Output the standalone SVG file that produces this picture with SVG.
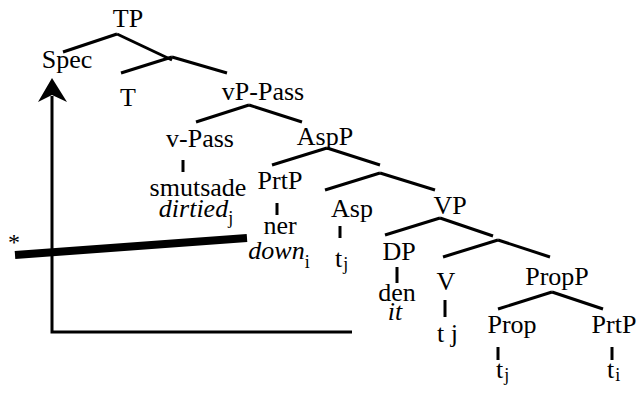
<svg xmlns="http://www.w3.org/2000/svg" width="642" height="393" viewBox="0 0 642 393">
<rect width="642" height="393" fill="#fff"/>
<g id="connectors" stroke="#000" stroke-width="3" fill="none">
<line x1="117" y1="34" x2="63" y2="52"/>
<line x1="117" y1="34" x2="172" y2="60"/>
<line x1="172" y1="57" x2="121" y2="73"/>
<line x1="172" y1="57" x2="227" y2="73"/>
<line x1="249" y1="105" x2="196" y2="122"/>
<line x1="249" y1="105" x2="302" y2="122"/>
<line x1="183" y1="160" x2="183" y2="172"/>
<line x1="327" y1="148" x2="272" y2="165"/>
<line x1="327" y1="148" x2="380" y2="165"/>
<line x1="380" y1="173" x2="325" y2="190"/>
<line x1="380" y1="173" x2="435" y2="190"/>
<line x1="277" y1="203" x2="277" y2="215"/>
<line x1="340" y1="226" x2="340" y2="238"/>
<line x1="440" y1="218" x2="385" y2="235"/>
<line x1="440" y1="218" x2="493" y2="236"/>
<line x1="498" y1="240" x2="443" y2="257"/>
<line x1="498" y1="240" x2="550" y2="257"/>
<line x1="397" y1="267" x2="397" y2="283"/>
<line x1="445" y1="300" x2="445" y2="317"/>
<line x1="552" y1="292" x2="498" y2="309"/>
<line x1="552" y1="292" x2="603" y2="309"/>
<line x1="498" y1="347" x2="498" y2="360"/>
<line x1="612" y1="347" x2="612" y2="360"/>
<polyline points="52,96 52,332 352,332"/>
<polygon points="52,78 38,102 52,95 67,102" fill="#000" stroke="none"/>
<line x1="15" y1="255" x2="247" y2="238" stroke-width="8"/>
</g>
<g id="star"><text font-family="Liberation Serif" font-size="24" x="8" y="250">*</text></g>
<g id="TP"><text font-family="Liberation Serif" font-size="26" x="128" y="27" text-anchor="middle">TP</text></g>
<g id="Spec"><text font-family="Liberation Serif" font-size="26" x="67" y="68" text-anchor="middle">Spec</text></g>
<g id="T"><text font-family="Liberation Serif" font-size="26" x="128" y="106" text-anchor="middle">T</text></g>
<g id="vP-Pass"><text font-family="Liberation Serif" font-size="26" x="263" y="100" text-anchor="middle">vP-Pass</text></g>
<g id="v-Pass"><text font-family="Liberation Serif" font-size="26" x="200" y="147" text-anchor="middle">v-Pass</text></g>
<g id="AspP"><text font-family="Liberation Serif" font-size="26" x="325" y="145" text-anchor="middle">AspP</text></g>
<g id="smutsade"><text font-family="Liberation Serif" font-size="26" x="198" y="196" text-anchor="middle">smutsade</text><text font-family="Liberation Serif" font-size="26" font-style="italic" x="196" y="217" text-anchor="middle">dirtied<tspan font-size="18" font-style="normal" dy="7">j</tspan></text></g>
<g id="PrtP1"><text font-family="Liberation Serif" font-size="26" x="280" y="189" text-anchor="middle">PrtP</text></g>
<g id="ner"><text font-family="Liberation Serif" font-size="26" x="280" y="234" text-anchor="middle">ner</text><text font-family="Liberation Serif" font-size="26" font-style="italic" x="279" y="259" text-anchor="middle">down<tspan font-size="18" font-style="normal" dy="9">i</tspan></text></g>
<g id="Asp"><text font-family="Liberation Serif" font-size="26" x="352" y="217" text-anchor="middle">Asp</text></g>
<g id="Asp-t"><text font-family="Liberation Serif" font-size="26" x="335" y="267">t<tspan font-size="18" dx="1" dy="3">j</tspan></text></g>
<g id="VP"><text font-family="Liberation Serif" font-size="26" x="450" y="214" text-anchor="middle">VP</text></g>
<g id="DP"><text font-family="Liberation Serif" font-size="26" x="399" y="260" text-anchor="middle">DP</text></g>
<g id="den"><text font-family="Liberation Serif" font-size="26" x="397" y="301" text-anchor="middle">den</text><text font-family="Liberation Serif" font-size="26" font-style="italic" x="395" y="320" text-anchor="middle">it</text></g>
<g id="V"><text font-family="Liberation Serif" font-size="26" x="446" y="290" text-anchor="middle">V</text></g>
<g id="V-t"><text font-family="Liberation Serif" font-size="26" x="437" y="342">t j</text></g>
<g id="PropP"><text font-family="Liberation Serif" font-size="26" x="557" y="285" text-anchor="middle">PropP</text></g>
<g id="Prop"><text font-family="Liberation Serif" font-size="26" x="512" y="333" text-anchor="middle">Prop</text></g>
<g id="Prop-t"><text font-family="Liberation Serif" font-size="26" x="496" y="378">t<tspan font-size="18" dx="1" dy="3">j</tspan></text></g>
<g id="PrtP2"><text font-family="Liberation Serif" font-size="26" x="614" y="333" text-anchor="middle">PrtP</text></g>
<g id="PrtP2-t"><text font-family="Liberation Serif" font-size="26" x="607" y="378">t<tspan font-size="18" dx="1" dy="3">i</tspan></text></g>
</svg>
